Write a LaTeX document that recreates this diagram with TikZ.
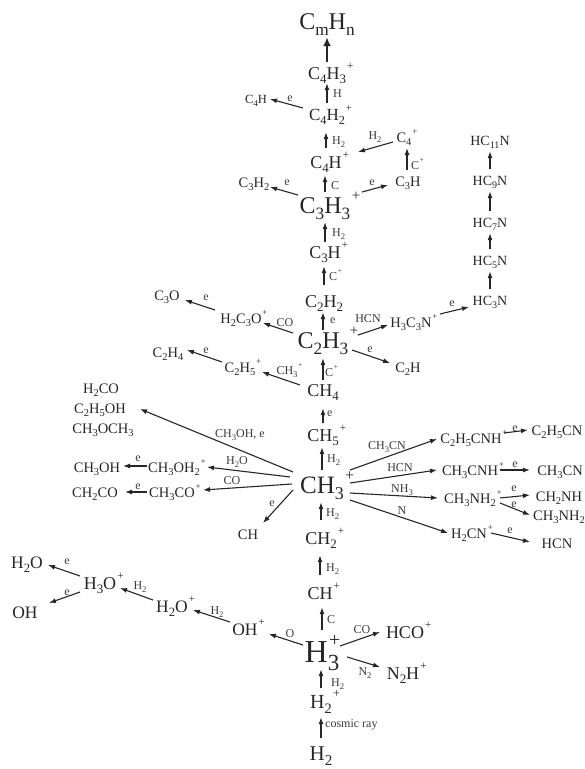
\documentclass[tikz,border=0pt]{standalone}
\usepackage{fontspec}
\usepackage{graphicx}
\setmainfont{Liberation Serif}
\usetikzlibrary{arrows.meta}
\newcommand\fs[1]{\fontsize{#1}{#1}\selectfont}
\newcommand\ssb[1]{\raisebox{-0.27em}{\scalebox{0.72}{#1}}}
\newcommand\ppl{\rlap{\kern0.06em\raisebox{0.52em}{\scalebox{0.62}{+}}}}
\definecolor{ink}{HTML}{262626}
\definecolor{labc}{HTML}{3A3A3A}
\begin{document}
\begin{tikzpicture}[x=1pt,y=-1pt,
  every node/.style={inner sep=0pt, anchor=base, text=ink},
  cn/.style 2 args={text height=#1pt, text depth=#2pt},
  big/.style={font=\fs{24}},
  mid/.style={font=\fs{18}},
  sn/.style={font=\fs{14.5}},
  sl/.style={font=\fs{17.5}},
  lb/.style={font=\fs{12}, text=labc},
  lbw/.style={lb, anchor=base west},
  chain/.style={sn, font=\fs{14}, text height=16pt, text depth=6pt},
  arr/.style={draw=ink, line width=1.1pt, -{Latex[length=7pt,width=5pt]}},
  boldarr/.style={draw=ink, line width=2.6pt, -{Latex[length=9pt,width=8pt]}},
]
\useasboundingbox (0,0) rectangle (585,769);

% ---------- main column ----------
\node[cn={16}{8}, big] (cmhn) at (327,29) {C\ssb{m}H\ssb{n}};
\node[cn={17}{4}, mid] (c4h3) at (327,79) {C\ssb{4}H\ssb{3}\ppl};
\node[cn={17}{12}, font=\fs{17}] (c4h2) at (327,120) {C\ssb{4}H\ssb{2}\ppl};
\node[cn={20}{7}, mid] (c4h) at (326,168) {C\ssb{4}H\ppl};
\node[cn={21}{9}, big] (c3h3) at (325,213) {C\ssb{3}H\ssb{3}\ppl};
\node[cn={16}{8}, mid] (c3h) at (325,258) {C\ssb{3}H\ppl};
\node[cn={22}{5}, mid] (c2h2) at (324,307) {C\ssb{2}H\ssb{2}};
\node[cn={18}{10}, big] (c2h3) at (323,348) {C\ssb{2}H\ssb{3}\ppl};
\node[cn={16}{12}, mid] (ch4) at (323,396) {CH\ssb{4}};
\node[cn={18}{6}, mid] (ch5) at (323,441) {CH\ssb{5}\ppl};
\node[cn={23}{9}, font=\fs{25}] (ch3) at (322,493) {CH\ssb{3}\ppl};
\node[cn={24}{11}, mid] (ch2) at (321,544) {CH\ssb{2}\ppl};
\node[cn={24}{8}, mid] (ch) at (320,599) {CH\ppl};
\node[cn={32}{7}, font=\fs{32}] (h3) at (322,662) {H\rlap{\kern0.04em\raisebox{0.5em}{\scalebox{0.62}{+}}}\ssb{3}};
\node[cn={20}{9}, font=\fs{20}] (h2p) at (321,708) {H\ssb{2}\ppl};
\node[cn={22}{4}, font=\fs{21}] (h2) at (321,760) {H\ssb{2}};

\draw[boldarr] (c4h3.north) -- (c4h3.north |- cmhn.south);
\draw[arr] (c4h2.north) -- (c4h2.north |- c4h3.south);
\draw[arr] (c4h.north) -- (c4h.north |- c4h2.south);
\draw[arr] (c3h3.north) -- (c3h3.north |- c4h.south);
\draw[arr] (c3h.north) -- (c3h.north |- c3h3.south);
\draw[arr] (c2h2.north) -- (c2h2.north |- c3h.south);
\draw[arr] (c2h3.north) -- (c2h3.north |- c2h2.south);
\draw[arr] (ch4.north) -- (ch4.north |- c2h3.south);
\draw[arr] (ch5.north) -- (ch5.north |- ch4.south);
\draw[arr] (ch3.north) -- (ch3.north |- ch5.south);
\draw[arr] (ch2.north) -- (ch2.north |- ch3.south);
\draw[arr] (ch.north) -- (ch.north |- ch2.south);
\draw[arr] (h3.north) -- (h3.north |- ch.south);
\draw[arr] (h2p.north) -- (h2p.north |- h3.south);
\draw[arr] (h2.north) -- (h2.north |- h2p.south);

\node[lbw] (k1) at (333,97) {H};
\node[lbw] (k2) at (332,144) {H\ssb{2}};
\node[lbw] (k3) at (331,189) {C};
\node[lbw] (k4) at (332,236) {H\ssb{2}};
\node[lbw] (k5) at (329,280) {C\ppl};
\node[lbw] (k6) at (330,323) {e};
\node[lbw] (k7) at (325,376) {C\ppl};
\node[lbw] (k8) at (327,416) {e};
\node[lbw] (k9) at (327,462) {H\ssb{2}};
\node[lbw] (k10) at (326,516) {H\ssb{2}};
\node[lbw] (k11) at (326,571) {H\ssb{2}};
\node[lbw] (k12) at (327,623) {C};
\node[lbw] (k13) at (331,686) {H\ssb{2}};
\node[lbw] (k14) at (325,727) {cosmic ray};

% ---------- upper side branches ----------
\node[font=\fs{12.5}] (c4hl) at (256,103) {C\ssb{4}H};
\draw[arr] ([shift={(-24,-12)}]c4h2.base) -- ([shift={(14,-4)}]c4hl.base);
\node[lb] (e1) at (290,101) {e};

\node[sn] (c4p) at (404,142) {C\ssb{4}\ppl};
\node[sn] (c3hr) at (408,186) {C\ssb{3}H};
\draw[arr] ([shift={(-11,0)}]c4p.base) -- ([shift={(32,-16)}]c4h.base);
\node[lb] (l2) at (375,139) {H\ssb{2}};
\draw[arr] ([shift={(-1,-16)}]c3hr.base) -- ([shift={(3,6)}]c4p.base);
\node[lb] (l3) at (415,169) {C\ppl};
\draw[arr] ([shift={(37,-21)}]c3h3.base) -- ([shift={(-20,-1)}]c3hr.base);
\node[lb] (l4) at (372,185) {e};

\node[sn] (c3h2) at (254,187) {C\ssb{3}H\ssb{2}};
\draw[arr] ([shift={(-27,-18)}]c3h3.base) -- ([shift={(16,0)}]c3h2.base);
\node[lb] (l5) at (287,185) {e};

% cyanopolyyne chain
\node[chain] (hc11) at (490,145) {HC\ssb{11}N};
\node[chain] (hc9) at (490,185) {HC\ssb{9}N};
\node[chain] (hc7) at (490,227) {HC\ssb{7}N};
\node[chain] (hc5) at (490,265) {HC\ssb{5}N};
\node[chain] (hc3) at (490,305) {HC\ssb{3}N};
\draw[arr] (hc9.north) -- (hc11.south);
\draw[arr] (hc7.north) -- (hc9.south);
\draw[arr] (hc5.north) -- (hc7.south);
\draw[arr] (hc3.north) -- (hc5.south);

\node[sn] (h3c3n) at (411,327) {H\ssb{3}C\ssb{3}N\ppl};
\draw[arr] ([shift={(29,-13)}]h3c3n.base) -- ([shift={(-21,2)}]hc3.base);
\node[lb] (l6) at (452,306) {e};
\draw[arr] ([shift={(35,-13)}]c2h3.base) -- ([shift={(-23,-2)}]h3c3n.base);
\node[lb] (l7) at (368,322) {HCN};
\node[sn] (c2h) at (408,372) {C\ssb{2}H};
\draw[arr] ([shift={(29,2)}]c2h3.base) -- ([shift={(-18,-9)}]c2h.base);
\node[lb] (l8) at (370,352) {e};

\node[sn] (c3o) at (167,300) {C\ssb{3}O};
\node[sn] (h2c3o) at (241,323) {H\ssb{2}C\ssb{3}O\ppl};
\draw[arr] ([shift={(-26,-13)}]h2c3o.base) -- ([shift={(18,0)}]c3o.base);
\node[lb] (l9) at (206,300) {e};
\draw[arr] ([shift={(-30,-15)}]c2h3.base) -- ([shift={(22,0)}]h2c3o.base);
\node[lb] (l10) at (285,326) {CO};

\node[sn] (c2h4) at (168,357) {C\ssb{2}H\ssb{4}};
\node[sn] (c2h5) at (240,372) {C\ssb{2}H\ssb{5}\ppl};
\draw[arr] ([shift={(-18,-10)}]c2h5.base) -- ([shift={(19,-7)}]c2h4.base);
\node[lb] (l11) at (206,353) {e};
\draw[arr] ([shift={(-23,-11)}]ch4.base) -- ([shift={(22,0)}]c2h5.base);
\node[lb] (l12) at (287,374) {CH\ssb{3}\ppl};

% ---------- CH3+ branches, left ----------
\node[sn] (h2co) at (101,393) {H\ssb{2}CO};
\node[sn] (c2h5oh) at (100,413) {C\ssb{2}H\ssb{5}OH};
\node[sn] (ch3och3) at (103,433) {CH\ssb{3}OCH\ssb{3}};
\draw[arr] ([shift={(-29,-21)}]ch3.base) -- ([shift={(40,-4)}]c2h5oh.base);
\node[lb] (l13) at (240,437) {CH\ssb{3}OH, e};

\node[sn] (ch3oh) at (97,472) {CH\ssb{3}OH};
\node[sn] (ch3oh2) at (174,472) {CH\ssb{3}OH\ssb{2}\ppl};
\draw[arr] ([shift={(-27,-6)}]ch3oh2.base) -- ([shift={(26,-6)}]ch3oh.base);
\node[lb] (l14) at (138,461) {e};
\draw[arr] ([shift={(-32,-16)}]ch3.base) -- ([shift={(33,-5)}]ch3oh2.base);
\node[lb] (l15) at (237,464) {H\ssb{2}O};

\node[sn] (ch2co) at (95,497) {CH\ssb{2}CO};
\node[sn] (ch3co) at (172,497) {CH\ssb{3}CO\ppl};
\draw[arr] ([shift={(-25,-5)}]ch3co.base) -- ([shift={(30,-5)}]ch2co.base);
\node[lb] (l16) at (138,489) {e};
\draw[arr] ([shift={(-30,-9)}]ch3.base) -- ([shift={(31,-7)}]ch3co.base);
\node[lb] (l17) at (232,484) {CO};

\node[sn] (chx) at (248,539) {CH};
\draw[arr] ([shift={(-29,-3)}]ch3.base) -- ([shift={(15,-16)}]chx.base);
\node[lb] (l18) at (272,506) {e};

% ---------- CH3+ branches, right ----------
\node[sn] (c2h5cnh) at (471,443) {C\ssb{2}H\ssb{5}CNH\ppl};
\node[sn] (c2h5cn) at (557,435) {C\ssb{2}H\ssb{5}CN};
\draw[arr] ([shift={(28,-23)}]ch3.base) -- ([shift={(-34,-4)}]c2h5cnh.base);
\node[lb] (l19) at (387,449) {CH\ssb{3}CN};
\draw[arr] ([shift={(33,-10)}]c2h5cnh.base) -- ([shift={(-29,-5)}]c2h5cn.base);
\node[lb] (l20) at (515,431) {e};

\node[sn] (ch3cnh) at (470,475) {CH\ssb{3}CNH\ppl};
\node[sn] (ch3cn) at (560,475) {CH\ssb{3}CN};
\draw[arr] ([shift={(28,-10)}]ch3.base) -- ([shift={(-33,-5)}]ch3cnh.base);
\node[lb] (l21) at (400,471) {HCN};
\draw[arr] ([shift={(30,-5)}]ch3cnh.base) -- ([shift={(-30,-5)}]ch3cn.base);
\node[lb] (l22) at (515,467) {e};

\node[sn] (ch3nh2p) at (470,503) {CH\ssb{3}NH\ssb{2}\ppl};
\node[sn] (ch2nh) at (559,501) {CH\ssb{2}NH};
\node[sn] (ch3nh2) at (559,520) {CH\ssb{3}NH\ssb{2}};
\draw[arr] ([shift={(28,0)}]ch3.base) -- ([shift={(-32,-5)}]ch3nh2p.base);
\node[lb] (l23) at (402,492) {NH\ssb{3}};
\draw[arr] ([shift={(30,-5)}]ch3nh2p.base) -- ([shift={(-29,-6)}]ch2nh.base);
\node[lb] (l24) at (514,491) {e};
\draw[arr] ([shift={(30,0)}]ch3nh2p.base) -- ([shift={(-29,-5)}]ch3nh2.base);
\node[lb] (l25) at (514,507) {e};

\node[sn] (h2cn) at (469,538) {H\ssb{2}CN\ppl};
\node[sn] (hcn) at (557,548) {HCN};
\draw[arr] ([shift={(28,7)}]ch3.base) -- ([shift={(-21,-5)}]h2cn.base);
\node[lb] (l26) at (402,514) {N};
\draw[arr] ([shift={(22,-5)}]h2cn.base) -- ([shift={(-27,-6)}]hcn.base);
\node[lb] (l27) at (510,533) {e};

% ---------- H3+ branches ----------
\node[sl] (h2ol) at (27,568) {H\ssb{2}O};
\node[font=\fs{18}] (h3o) at (100,589) {H\ssb{3}O\ppl};
\node[sl] (ohl) at (25,618) {OH};
\node[sl] (h2op) at (172,612) {H\ssb{2}O\ppl};
\node[sl] (ohp) at (245,635) {OH\ppl};
\draw[arr] ([shift={(-20,-13)}]h3o.base) -- ([shift={(21,-3)}]h2ol.base);
\node[lb] (l28) at (67,564) {e};
\draw[arr] ([shift={(-20,3)}]h3o.base) -- ([shift={(24,-15)}]ohl.base);
\node[lb] (l29) at (67,595) {e};
\draw[arr] ([shift={(-19,-12)}]h2op.base) -- ([shift={(20,-1)}]h3o.base);
\node[lb] (l30) at (140,589) {H\ssb{2}};
\draw[arr] ([shift={(-15,-13)}]ohp.base) -- ([shift={(21,-2)}]h2op.base);
\node[lb] (l31) at (217,614) {H\ssb{2}};
\draw[arr] ([shift={(-19,-17)}]h3.base) -- ([shift={(24,-1)}]ohp.base);
\node[lb] (l32) at (290,637) {O};

\node[mid] (hco) at (405,638) {HCO\ppl};
\node[mid] (n2h) at (403,679) {N\ssb{2}H\ppl};
\draw[arr] ([shift={(18,-16)}]h3.base) -- ([shift={(-25,-6)}]hco.base);
\node[lb] (l33) at (362,633) {CO};
\draw[arr] ([shift={(25,-5)}]h3.base) -- ([shift={(-23,-12)}]n2h.base);
\node[lb] (l34) at (365,675) {N\ssb{2}};
\end{tikzpicture}
\end{document}
